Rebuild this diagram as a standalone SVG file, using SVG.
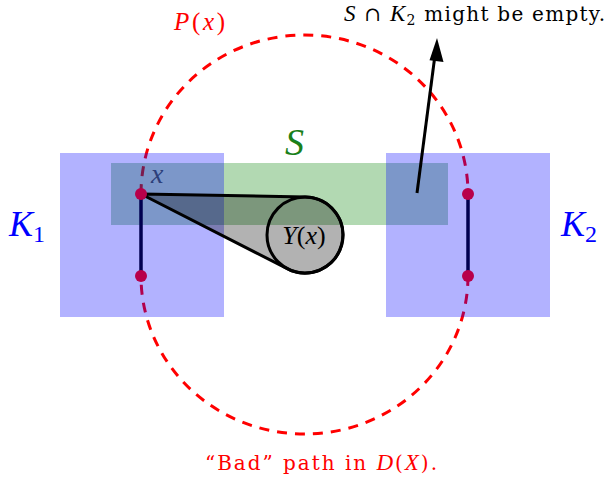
<svg xmlns="http://www.w3.org/2000/svg" width="608" height="482" viewBox="0 0 608 482">
<style>
.t{font-family:"Liberation Serif","DejaVu Serif",serif}
.d{font-family:"DejaVu Serif","Liberation Serif",serif}
.i{font-style:italic}
.dot{fill:#b8004a}
.seg{stroke:#000050;stroke-width:3.5;fill:none}
</style>
<rect width="608" height="482" fill="#fff"/>
<g id="P">
<path d="M141,194 A163.5,159 0 0 1 468,194 M468,276 A163.5,158 0 0 1 141,276" fill="none" stroke="#ff0000" stroke-width="3" stroke-dasharray="10 8"/>
</g>
<g id="S">
<rect x="111" y="163" width="337" height="62" fill="#008000" fill-opacity="0.3"/>
</g>
<g id="K1">
<rect x="60" y="153" width="164" height="164" fill="#0000ff" fill-opacity="0.3"/>
</g>
<g id="K2">
<rect x="386" y="153" width="164" height="164" fill="#0000ff" fill-opacity="0.3"/>
</g>
<g id="Y">
<path d="M141,194 L305.7,197 A38,38 0 1 1 287.7,268.9 Z" fill="#000" fill-opacity="0.3" stroke="#000" stroke-width="3" stroke-linejoin="round"/>
<circle cx="305" cy="235" r="38" fill="none" stroke="#000" stroke-width="3"/>
</g>
<g id="connectors">
<line class="seg" x1="141" y1="194" x2="141" y2="276"/>
<line class="seg" x1="468" y1="194" x2="468" y2="276"/>
<line x1="417" y1="193" x2="435" y2="55" stroke="#000" stroke-width="3"/>
<path d="M437,38 L443.5,62 L429.5,60.3 Z" fill="#000"/>
</g>
<g id="points">
<circle class="dot" cx="141" cy="194" r="6"/>
<circle class="dot" cx="141" cy="276" r="6"/>
<circle class="dot" cx="468" cy="194" r="6"/>
<circle class="dot" cx="468" cy="276" r="6"/>
</g>
<g id="labels">
<text class="t i" x="174" y="30" font-size="25" fill="#ff0000" textLength="51" lengthAdjust="spacing">P<tspan font-style="normal">(</tspan>x<tspan font-style="normal">)</tspan></text>
<text class="d" x="344" y="21" font-size="20" fill="#000" textLength="261" lengthAdjust="spacing"><tspan class="t" font-size="23" font-style="italic">S</tspan> ∩ <tspan class="t" font-size="23" font-style="italic">K</tspan><tspan font-size="14" dy="4">2</tspan><tspan dy="-4"> might be empty.</tspan></text>
<text class="t i" x="285" y="155" font-size="38" fill="#1a801a">S</text>
<text class="t i" x="151" y="183" font-size="28" fill="#2d3f7a">x</text>
<text class="t" x="304" y="244" font-size="26" fill="#000" text-anchor="middle"><tspan font-style="italic">Y</tspan>(<tspan font-style="italic">x</tspan>)</text>
<text class="t i" x="9" y="236" font-size="36" fill="#0000ff">K<tspan font-style="normal" font-size="24" dy="6">1</tspan></text>
<text class="t i" x="561" y="236" font-size="36" fill="#0000ff">K<tspan font-style="normal" font-size="24" dy="6">2</tspan></text>
<text class="d" x="205" y="470" font-size="20" fill="#ff0000" textLength="232" lengthAdjust="spacing">“Bad” path in <tspan class="t" font-size="23" font-style="italic">D</tspan>(<tspan class="t" font-size="23" font-style="italic">X</tspan>).</text>
</g>
</svg>
